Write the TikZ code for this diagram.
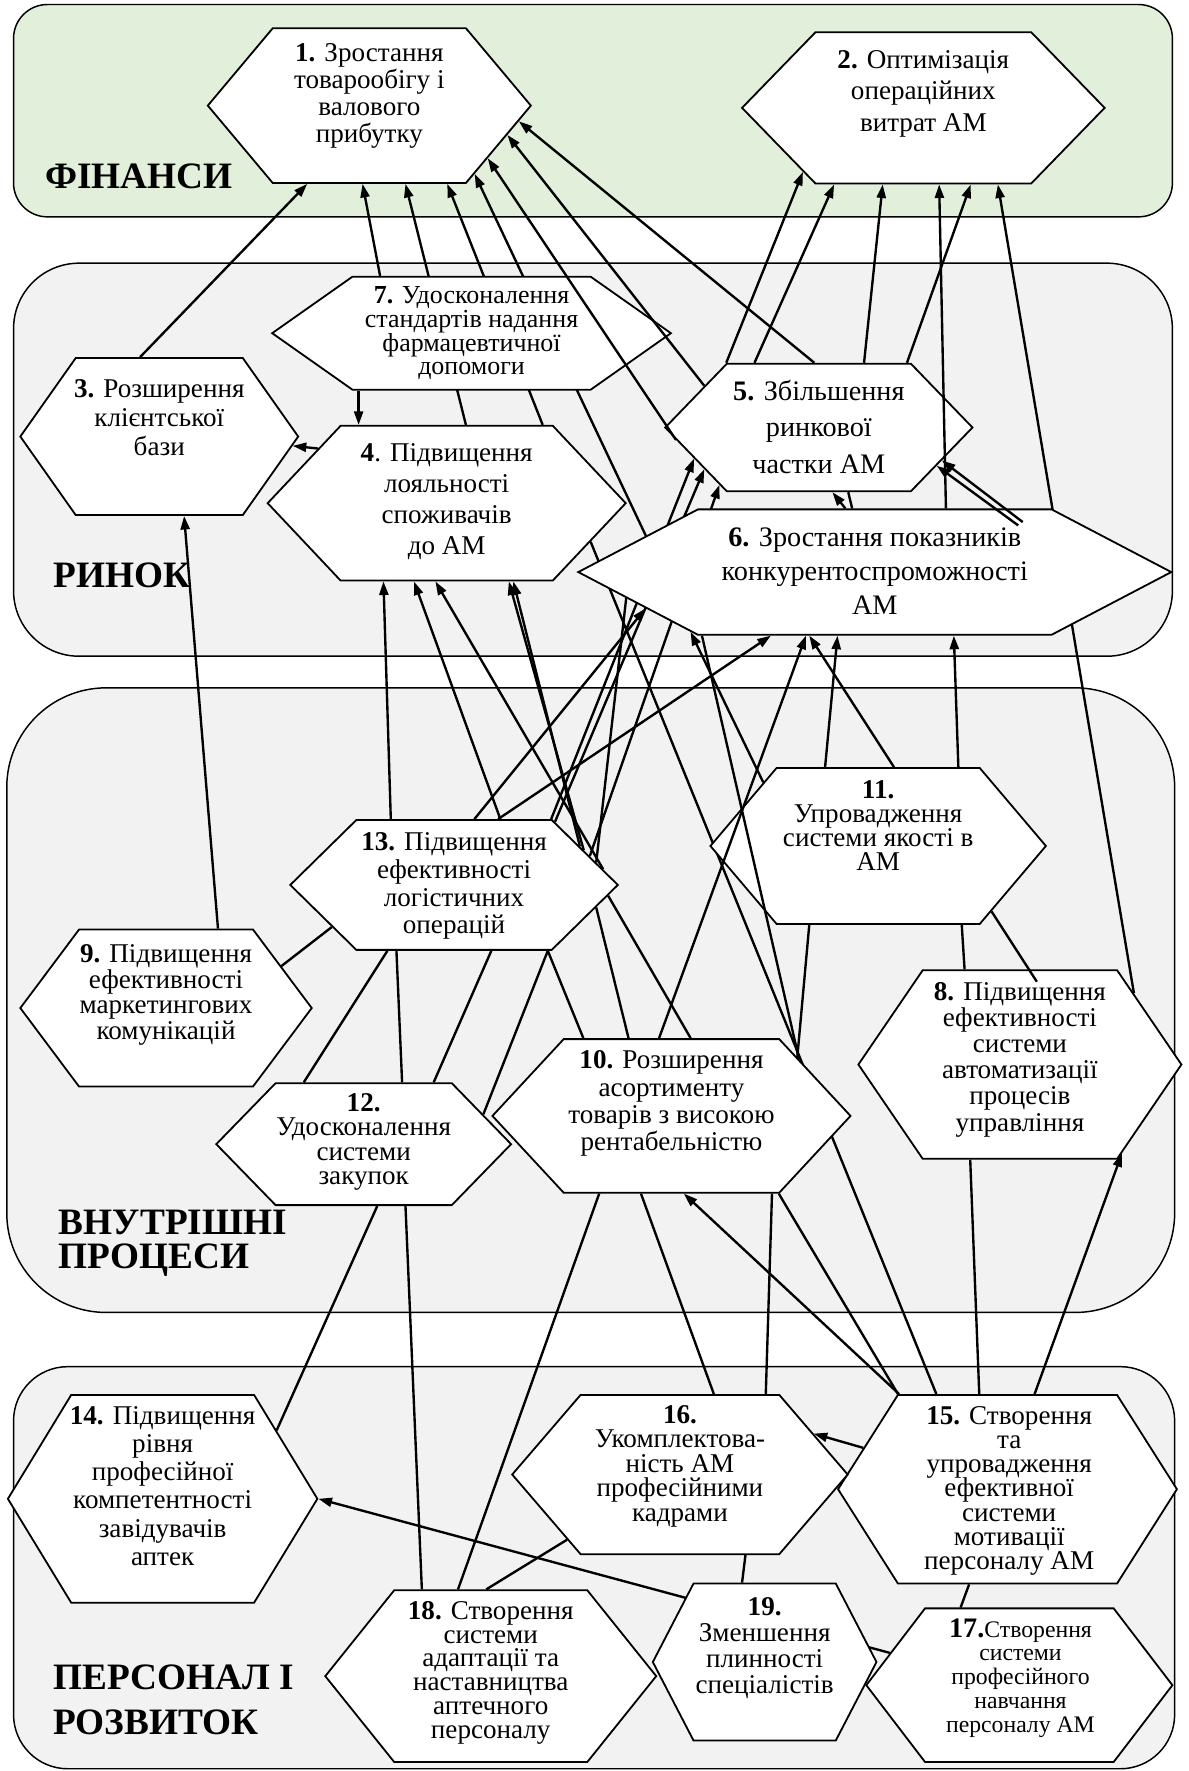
\documentclass[tikz,border=0pt]{standalone}
\usepackage{fontspec}
\setmainfont{Liberation Serif}
\usetikzlibrary{arrows.meta,shapes.symbols}
\definecolor{finfill}{HTML}{E2EFDA}
\definecolor{bandfill}{HTML}{F2F2F2}
\pgfdeclarelayer{bands}
\pgfdeclarelayer{hidden}
\pgfsetlayers{bands,hidden,main}
\setlength{\lineskiplimit}{-100pt}

\begin{document}
\begin{tikzpicture}[x=1pt,y=-1pt,>={Triangle[length=12pt,width=8pt]},
    every edge/.style={draw,line width=2.1pt},
    band/.style={draw,fill=bandfill,line width=1.3pt},
    hexa/.style n args={3}{shape=signal,signal to=west and east,draw,fill=white,
      line width=1.6pt,inner sep=0pt,minimum width=#1pt,minimum height=#2pt,
      signal pointer angle=#3},
    txt/.style={align=center,inner sep=0pt,font=\fontsize{24}{#1}\selectfont},
    txt/.default=24,
    lbl/.style={align=left,anchor=west,inner sep=0pt,font=\fontsize{33}{#1}\selectfont\bfseries},
    lbl/.default=33]

  \useasboundingbox (0,0) rectangle (1052,1568);

  \begin{pgfonlayer}{bands}
    \draw[band,fill=finfill,rounded corners=30pt] (12,4) rectangle (1038,192);
    \draw[band,rounded corners=58pt] (12,233) rectangle (1038,581);
    \draw[band,rounded corners=88pt] (6,609) rectangle (1040,1162);
    \draw[band,rounded corners=48pt] (12,1210) rectangle (1040,1566);
  \end{pgfonlayer}

  \node[lbl]    (lfin) at (40,156)   {ФІНАНСИ};
  \node[lbl]    (lmar) at (47,509)   {РИНОК};
  \node[lbl=30] (lint) at (52,1101)  {ВНУТРІШНІ\\ПРОЦЕСИ};
  \node[lbl=40] (lper) at (47,1505)  {ПЕРСОНАЛ І\\РОЗВИТОК};

  \node[hexa={286}{137}{100}]  (h1)  at (327,93.5)   {};
  \node[hexa={321}{134}{91.7}] (h2)  at (817.5,95.5) {};
  \node[hexa={246}{139}{109.6}](h3)  at (141,386.5)  {};
  \node[hexa={317}{137}{93.4}] (h4)  at (395.5,445.5){};
  \node[hexa={272}{113}{92}]   (h5)  at (725,378.5)  {};
  \node[hexa={525}{111}{55.3}] (h6)  at (774.5,506.5){};
  \node[hexa={353}{100}{70.3}] (h7)  at (417.5,295)  {};
  \node[hexa={286}{167}{111.4}](h8)  at (903,942.5)  {};
  \node[hexa={258}{139}{106.4}](h9)  at (147,892.5)  {};
  \node[hexa={317}{136}{94.3}] (h10) at (594.5,988)  {};
  \node[hexa={297}{138}{99.4}] (h11) at (777.5,749)  {};
  \node[hexa={261}{108}{91.6}] (h12) at (322,1013)   {};
  \node[hexa={290}{115}{89}]   (h13) at (402,783.5)  {};
  \node[hexa={274}{184}{117.3}](h14) at (144,1327)   {};
  \node[hexa={300}{167}{115.2}](h15) at (892,1318.5) {};
  \node[hexa={297}{141}{98.7}] (h16) at (602,1305.5) {};
  \node[hexa={271}{136}{105.2}](h17) at (902.5,1492) {};
  \node[hexa={293}{152}{102.5}](h18) at (434.5,1484) {};
  \node[hexa={198}{139}{125.2}](h19) at (677,1471.5) {};

  \node[txt]      (t1)  at (327,85)      {\textbf{1.} Зростання\\товарообігу і\\валового\\прибутку};
  \node[txt=28]   (t2)  at (817.5,83)    {\textbf{2.} Оптимізація\\операційних\\витрат АМ};
  \node[txt=25.8] (t3)  at (141,370)     {\textbf{3.} Розширення\\клієнтської\\бази};
  \node[txt=27.3] (t4)  at (395.5,444)   {\textbf{4}. Підвищення\\лояльності\\споживачів\\до АМ};
  \node[txt,font=\fontsize{25}{32.5}\selectfont] (t5) at (725,378) {\textbf{5.} Збільшення\\ринкової\\частки АМ};
  \node[txt,font=\fontsize{25}{30.3}\selectfont] (t6) at (774.5,505.5) {\textbf{6.} Зростання показників\\конкурентоспроможності\\АМ};
  \node[txt,font=\fontsize{23}{21}\selectfont] (t7) at (417.5,295) {\textbf{7.} Удосконалення\\стандартів надання\\фармацевтичної\\допомоги};
  \node[txt=24.5] (t13) at (402,784.5)   {\textbf{13.} Підвищення\\ефективності\\логістичних\\операцій};
  \node[txt=22.7] (t9)  at (147,881)     {\textbf{9.} Підвищення\\ефективності\\маркетингових\\комунікацій};
  \node[txt=21.2] (t11) at (777.5,731)   {\textbf{11.}\\Упровадження\\системи якості в\\АМ};
  \node[txt=23.2] (t8)  at (903,938)     {\textbf{8.} Підвищення\\ефективності\\системи\\автоматизації\\процесів\\управління};
  \node[txt]      (t10) at (594.5,977)   {\textbf{10.} Розширення\\асортименту\\товарів з високою\\рентабельністю};
  \node[txt=21.6] (t12) at (322,1011)    {\textbf{12.}\\Удосконалення\\системи\\закупок};
  \node[txt=25]   (t14) at (144,1315.5)  {\textbf{14.} Підвищення\\рівня\\професійної\\компетентності\\завідувачів\\аптек};
  \node[txt=21.75](t16) at (602,1298)    {\textbf{16.}\\Укомплектова-\\ність АМ\\професійними\\кадрами};
  \node[txt=21.4] (t15) at (893.5,1320)  {\textbf{15.} Створення\\та\\упровадження\\ефективної\\системи\\мотивації\\персоналу АМ};
  \node[txt=21]   (t18) at (434.5,1481)  {\textbf{18.} Створення\\системи\\адаптації та\\наставництва\\аптечного\\персоналу};
  \node[txt=23]   (t19) at (677,1459)    {\textbf{19.}\\Зменшення\\плинності\\спеціалістів};
  \node[txt,font=\fontsize{21}{21}\selectfont] (t17) at (903.5,1485.5) {{\fontsize{25}{21}\selectfont\textbf{17.}}Створення\\системи\\професійного\\навчання\\персоналу АМ};

  \begin{pgfonlayer}{hidden}
    \path[->] ([xshift=17pt]h4.north) edge ([xshift=32pt]h1.south)
              ([xshift=85pt]h4.north) edge ([xshift=69pt]h1.south)
              (h6.171)  edge (h1.-33)
              (h8.32)   edge ([xshift=66pt]h2.south)
              ([xshift=86pt]h13.north) edge (h5.-166)
              (h13.32)  edge (h5.-160)
              (h13.12)  edge (h5.-150)
              (h17.166) edge (h14.east);
    \path ([xshift=-63pt]h15.north) edge (h4.-15);
  \end{pgfonlayer}

  \path[->] ([xshift=-17pt]h3.north) edge ([xshift=-55pt]h1.south)
            ([xshift=-81pt]h7.north) edge ([xshift=-6pt]h1.south)
            (h5.185) edge (h1.-24)
            (h5.160) edge (h1.-12)
            ([xshift=-4pt]h5.north)  edge (h1.-6)
            ([xshift=-82pt]h5.north) edge (h2.-152)
            ([xshift=-57pt]h5.north) edge ([xshift=-79pt]h2.south)
            ([xshift=40pt]h5.north)  edge ([xshift=-36pt]h2.south)
            ([xshift=63pt]h6.north)  edge ([xshift=14pt]h2.south)
            ([xshift=78pt]h5.north)  edge ([xshift=42pt]h2.south)
            ([xshift=-100pt]h7.south) edge ([xshift=-78pt]h4.north)
            (h4.157) edge (h3.-4)
            ([xshift=-26pt]h6.north) edge ([xshift=12pt]h5.south)
            ([xshift=127pt,yshift=-15pt]h6.north) edge (h5.-18)
            ([xshift=131pt,yshift=-12pt]h6.north) edge (h5.-15)
            ([xshift=-56pt]h13.north) edge ([xshift=-56pt]h4.south)
            ([xshift=41pt]h13.north)  edge ([xshift=-29pt]h4.south)
            (h13.6)  edge ([xshift=-10pt]h4.south)
            (h13.15) edge ([xshift=55pt]h4.south)
            (h13.17) edge ([xshift=59pt]h4.south)
            ([xshift=46pt]h9.north) edge ([xshift=22pt]h3.south)
            (h11.151) edge (h6.-162)
            ([xshift=39pt]h13.north)  edge ([xshift=-92pt]h6.south)
            ([xshift=-11pt]h10.north) edge ([xshift=-61pt]h6.south)
            ([xshift=14pt]h11.north)  edge ([xshift=-58pt]h6.south)
            ([xshift=-47pt]h11.north) edge ([xshift=-33pt]h6.south)
            ([xshift=71pt]h11.north)  edge ([xshift=70pt]h6.south)
            ([xshift=18pt]h13.north)  edge (h6.-171)
            (h15.164) edge (h16.17)
            ([xshift=-96pt]h15.north) edge ([xshift=11pt]h10.south)
            ([xshift=24pt]h15.north)  edge (h8.-41);

  \path (h9.20)  edge (h13.-161)
        (h13.9)  edge (h6.-174)
        ([xshift=-59pt]h13.south) edge ([xshift=-53pt]h12.north)
        ([xshift=-51pt]h13.south) edge ([xshift=34pt]h12.north)
        ([xshift=33pt]h13.south)  edge ([xshift=62pt]h12.north)
        ([xshift=83pt]h13.south)  edge (h12.14)
        ([xshift=83pt]h13.south)  edge ([xshift=-78pt]h10.north)
        (h13.-9) edge ([xshift=-38pt]h10.north)
        (h13.-4) edge ([xshift=17pt]h10.north)
        ([xshift=-61pt]h11.south) edge (h10.25)
        ([xshift=74pt]h11.south)  edge ([xshift=-49pt]h8.north)
        (h11.-30) edge ([xshift=15pt,yshift=-11pt]h8.north)
        ([xshift=12pt]h12.south)  edge (h14.31)
        ([xshift=37pt]h12.south)  edge ([xshift=-61pt]h18.north)
        ([xshift=-64pt]h10.south) edge ([xshift=-29pt]h18.north)
        ([xshift=-4pt]h18.north)  edge (h16.-150)
        ([xshift=-20pt]h19.north) edge ([xshift=58pt]h16.south)
        ([xshift=-52pt]h17.north) edge ([xshift=-34pt]h15.south)
        ([xshift=-27pt]h10.south) edge ([xshift=30pt]h16.north)
        ([xshift=89pt]h10.south)  edge ([xshift=76pt]h16.north)
        ([xshift=95pt]h10.south)  edge ([xshift=-97pt]h15.north)
        ([xshift=-44pt]h8.south)  edge ([xshift=-25pt]h15.north)
        ([xshift=-153pt]h6.south) edge (h10.24)
        ([xshift=-20pt]h6.north)  edge ([xshift=26pt]h5.south);
\end{tikzpicture}
\end{document}
